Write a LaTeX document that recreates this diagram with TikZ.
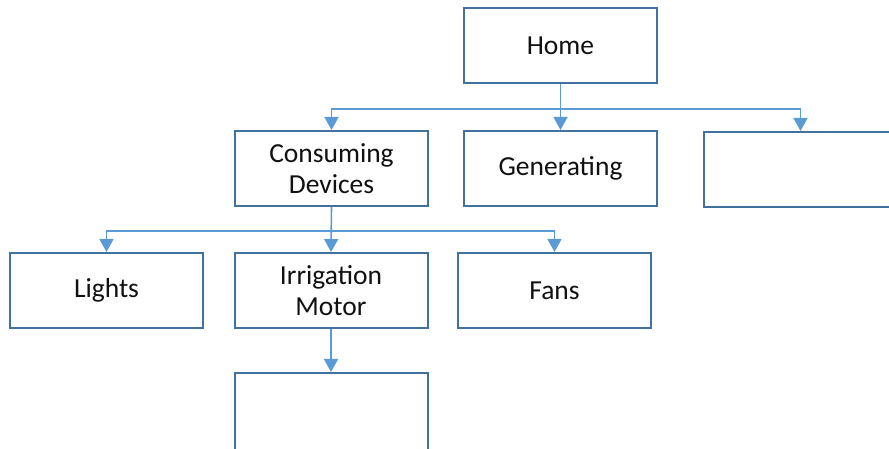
\documentclass[tikz,border=0pt]{standalone}
\usepackage{fontspec}
\setmainfont{Carlito}
\usetikzlibrary{arrows.meta}
\definecolor{cEdge}{HTML}{41719C}
\definecolor{cArr}{HTML}{5B9BD5}
\definecolor{cInk}{HTML}{111111}
\tikzset{
  every node/.style={font=\fontsize{27.5}{31}\selectfont, text=cInk},
  unit/.style={draw=cEdge, line width=2pt, fill=white, minimum width=193pt, minimum height=75pt, inner sep=2pt, align=center},
  arr/.style={-{Triangle[length=13pt,width=14pt]}, line width=1.6pt, draw=cArr},
}
\begin{document}
\begin{tikzpicture}[x=1pt,y=1pt]
\useasboundingbox (0,0) rectangle (889,449);
% top level
\node[unit] (home) at (560.5,403.5) {Home};
% second row, the last box runs off the right edge
\node[unit] (cons) at (331.5,280.5) {Consuming\\Devices};
\node[unit] (gen) at (560.5,280.5) {Generating};
\node[unit, minimum width=215pt] (other) at (811.5,279.5) {};
% third row
\node[unit] (lights) at (106.5,158.5) {Lights};
\node[unit] (irrig) at (331,158.5) {Irrigation\\Motor};
\node[unit] (fans) at (554.5,158.5) {Fans};
% fourth row, runs off the bottom edge
\node[unit, minimum height=85pt] (motorsub) at (331,33.5) {};
% links home -> second row
\draw[arr] (home.south) -- (gen.north);
\draw[arr] (home.south) -- ++(0,-25) -| (cons.north);
\draw[arr] (home.south) -- ++(0,-25) -| ([xshift=-11pt]other.north);
% links consuming devices -> third row
\draw[arr] (cons.south) -- (irrig.north);
\draw[arr] (cons.south) -- ++(0,-24) -| (lights.north);
\draw[arr] (cons.south) -- ++(0,-24) -| (fans.north);
% motor -> below
\draw[arr] (irrig.south) -- (motorsub.north);
\end{tikzpicture}
\end{document}
